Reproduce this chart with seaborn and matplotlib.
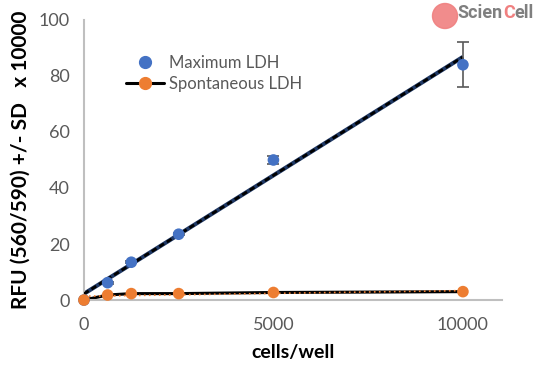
import numpy as np
import pandas as pd
import matplotlib
matplotlib.use("Agg")
import matplotlib.pyplot as plt
import seaborn as sns
from matplotlib.patches import Circle
from matplotlib.lines import Line2D
from matplotlib.offsetbox import TextArea, HPacker, AnchoredOffsetbox

cells = [0, 625, 1250, 2500, 5000, 10000]
max_ldh = [0.0, 6.2, 13.5, 23.5, 50.0, 84.0]
max_sd = [0.0, 0.4, 0.4, 0.4, 1.5, 8.0]
spont_ldh = [0.0, 1.8, 2.3, 2.3, 2.7, 3.0]
xticks = [0, 5000, 10000]
yticks = [0, 20, 40, 60, 80, 100]

sns.set_theme(style="white")
plt.rcParams['font.family'] = ['Lato', 'DejaVu Sans']

df = pd.DataFrame({"cells": cells, "max": max_ldh, "sd": max_sd, "spont": spont_ldh})

fig = plt.figure(figsize=(5.38, 3.76), dpi=100)
ax = fig.add_axes([0.156, 0.202, 0.777, 0.745])

blue = "#4472C4"
orange = "#ED7D31"
grey = "#595959"

# trendlines
xs = np.array([0, 10000])
m1, b1 = np.polyfit(df["cells"], df["max"], 1)
ax.plot(xs, m1 * xs + b1, color="#1F3864", lw=3, zorder=2, solid_capstyle="butt")
ax.plot(xs, m1 * xs + b1, color="black", lw=2, ls=(0, (2, 1.2)), zorder=3)

sns.lineplot(data=df, x="cells", y="spont", color="black", lw=2.2, ax=ax, zorder=2, legend=False)
m2, b2 = np.polyfit(df["cells"], df["spont"], 1)
ax.plot(xs, m2 * xs + b2, color=orange, lw=1.2, ls=(0, (1, 2)), zorder=3)

ax.errorbar(df["cells"], df["max"], yerr=df["sd"], fmt="none", ecolor=grey, elinewidth=1.2,
            capsize=4, capthick=1.2, zorder=4)
sns.scatterplot(data=df, x="cells", y="max", color=blue, s=70, edgecolor="none", ax=ax,
                zorder=5, clip_on=False, legend=False)
sns.scatterplot(data=df, x="cells", y="spont", color=orange, s=70, edgecolor="none", ax=ax,
                zorder=5, clip_on=False, legend=False)

h1 = Line2D([], [], color=blue, marker="o", ls="none", markersize=8.5)
h2 = Line2D([], [], color="black", lw=2.2, marker="o", markerfacecolor=orange,
            markeredgecolor=orange, markersize=8.5)
leg = ax.legend([h1, h2], ["Maximum LDH", "Spontaneous LDH"], loc="upper left",
                bbox_to_anchor=(0.085, 0.9), frameon=False, fontsize=12,
                handlelength=2.3, handletextpad=0.3, labelspacing=0.3, borderaxespad=0)
for t in leg.get_texts():
    t.set_color(grey)

ax.set_xlim(0, 11030)
ax.set_ylim(0, 100)
ax.set_xticks(xticks)
ax.set_yticks(yticks)
ax.tick_params(axis="both", labelsize=13, colors=grey, length=0)
ax.tick_params(axis="x", pad=12)
ax.tick_params(axis="y", pad=10)
for s in ["top", "right"]:
    ax.spines[s].set_visible(False)
for s in ["left", "bottom"]:
    ax.spines[s].set_color("#BFBFBF")
    ax.spines[s].set_linewidth(1.5)

ax.set_xlabel("cells/well", fontsize=14, fontweight="bold", color="black", labelpad=8)
ax.set_ylabel("RFU (560/590) +/- SD   x 10000", fontsize=15, fontweight="bold",
              color="black", labelpad=6)

# logo
fig.patches.append(Circle((445, 360), 12.5, transform=None, color="#F08080", alpha=0.9))
parts = [TextArea(t, textprops=dict(fontsize=13, fontweight="bold", color=c, family="Roboto"))
         for t, c in [("Scien", "#7F7F7F"), ("C", "#F08080"), ("ell", "#7F7F7F")]]
box = HPacker(children=parts, pad=0, sep=0)
anch = AnchoredOffsetbox(loc="upper right", child=box, frameon=False,
                         bbox_to_anchor=(534 / 538, 1 - 4 / 376), bbox_transform=fig.transFigure,
                         borderpad=0, pad=0)
fig.add_artist(anch)

fig.savefig("out.png", dpi=100)
